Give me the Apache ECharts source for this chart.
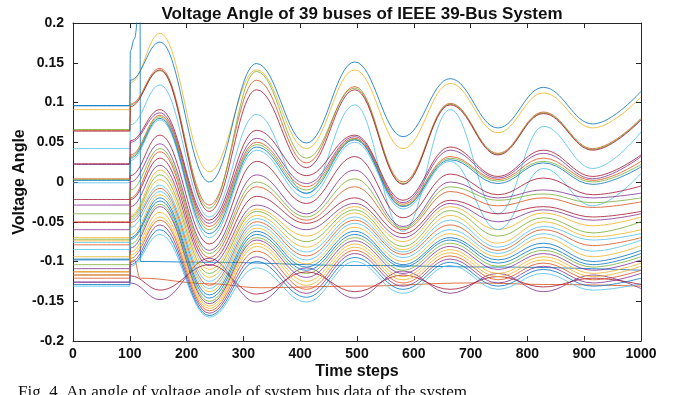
<!DOCTYPE html>
<html><head><meta charset="utf-8">
<script src="https://cdn.jsdelivr.net/npm/echarts@6/dist/echarts.min.js"></script>
<style>html,body{margin:0;padding:0;background:#fff}#c{width:689px;height:395px}</style>
</head><body><div id="c"></div>
<script>
// ---- data ----
const titleText = 'Voltage Angle of 39 buses of IEEE 39-Bus System';
const xLabel = 'Time steps';
const yLabel = 'Voltage Angle';
const captionText = 'Fig. 4. An angle of voltage angle of system bus data of the system';
const xTicks = [0, 100, 200, 300, 400, 500, 600, 700, 800, 900, 1000];
const yTicks = [-0.2, -0.15, -0.1, -0.05, 0, 0.05, 0.1, 0.15, 0.2];

// time steps at which each bus angle was read (pre-fault, jump, peaks and troughs)
const keyTimes   = [0, 100, 101, 153, 240, 323, 411, 496, 581, 664, 748, 828, 915, 1000];
const faultTimes = [0, 100, 101, 108, 116, 118, 119, 240, 500, 750, 1000];
const slowTimes  = [0, 100, 101, 108, 118, 240, 330, 500, 700, 850, 1000];

const bus01 = [0.096, 0.096, 0.165, 0.180, 0.215, 0.215, -0.100, -0.101, -0.105, -0.107, -0.111];
const bus02 = [0.065, 0.065, 0.098, 0.143, -0.029, 0.128, 0.024, 0.120, 0.000, 0.099, 0.036, 0.088, 0.042, 0.080];
const bus03 = [0.091, 0.091, 0.125, 0.187, 0.013, 0.141, 0.042, 0.141, 0.042, 0.124, 0.062, 0.112, 0.068, 0.107];
const bus04 = [0.022, 0.022, 0.050, 0.087, -0.052, 0.055, -0.002, 0.057, -0.026, 0.040, 0.005, 0.036, 0.004, 0.032];
const bus05 = [0.066, 0.066, 0.097, 0.140, -0.033, 0.139, 0.030, 0.118, -0.002, 0.098, 0.035, 0.087, 0.041, 0.079];
const bus06 = [0.042, 0.042, 0.072, 0.122, -0.044, 0.085, -0.015, 0.097, -0.062, 0.091, -0.040, 0.070, 0.017, 0.063];
const bus07 = [0.064, 0.064, 0.095, 0.141, -0.037, 0.116, 0.018, 0.116, -0.003, 0.097, 0.034, 0.086, 0.040, 0.078];
const bus08 = [0.096, 0.096, 0.128, 0.176, 0.000, 0.149, 0.049, 0.151, 0.057, 0.130, 0.068, 0.119, 0.073, 0.114];
const bus09 = [0.004, 0.004, 0.034, 0.084, -0.056, 0.050, -0.006, 0.055, -0.028, 0.032, 0.003, 0.030, 0.002, 0.026];
const bus10 = [-0.070, -0.070, -0.042, 0.015, -0.110, -0.034, -0.068, -0.031, -0.075, -0.031, -0.060, -0.039, -0.055, -0.044];
const bus11 = [-0.126, -0.126, -0.127, -0.148, -0.096, -0.151, -0.108, -0.146, -0.112, -0.140, -0.115, -0.138, -0.117, -0.134];
const bus12 = [0.003, 0.003, 0.032, 0.082, -0.060, 0.047, -0.010, 0.054, -0.030, 0.030, 0.001, 0.026, 0.000, 0.022];
const bus13 = [-0.001, -0.001, 0.027, 0.078, -0.070, 0.040, -0.020, 0.050, -0.034, 0.026, -0.060, 0.017, -0.030, 0.011];
const bus14 = [0.023, 0.023, 0.052, 0.091, -0.048, 0.065, 0.008, 0.059, -0.023, 0.044, 0.007, 0.040, 0.007, 0.034];
const bus15 = [0.002, 0.002, 0.030, 0.080, -0.065, 0.044, -0.014, 0.053, -0.031, 0.028, -0.002, 0.024, -0.003, 0.019];
const bus16 = [-0.050, -0.050, -0.020, 0.038, -0.095, -0.006, -0.048, -0.006, -0.060, -0.012, -0.030, -0.020, -0.032, -0.025];
const bus17 = [-0.074, -0.074, -0.046, 0.003, -0.120, -0.042, -0.082, -0.039, -0.085, -0.042, -0.077, -0.050, -0.069, -0.060];
const bus18 = [-0.029, -0.029, 0.000, 0.048, -0.086, 0.009, -0.040, 0.015, -0.056, 0.000, -0.020, -0.010, -0.020, -0.014];
const bus19 = [-0.072, -0.072, -0.044, 0.009, -0.115, -0.037, -0.075, -0.035, -0.081, -0.036, -0.068, -0.045, -0.064, -0.050];
const bus20 = [-0.076, -0.076, -0.048, -0.004, -0.125, -0.046, -0.088, -0.044, -0.088, -0.048, -0.082, -0.056, -0.073, -0.065];
const bus21 = [-0.022, -0.022, 0.008, 0.059, -0.078, 0.026, -0.027, 0.032, -0.045, 0.010, -0.016, 0.005, -0.016, -0.005];
const bus22 = [-0.097, -0.097, -0.070, -0.020, -0.142, -0.062, -0.107, -0.062, -0.104, -0.070, -0.098, -0.077, -0.100, -0.086];
const bus23 = [-0.113, -0.113, -0.100, -0.098, -0.121, -0.128, -0.133, -0.131, -0.127, -0.129, -0.131];
const bus24 = [-0.094, -0.094, -0.066, -0.016, -0.138, -0.058, -0.103, -0.057, -0.100, -0.065, -0.094, -0.070, -0.094, -0.080];
const bus25 = [-0.060, -0.060, -0.031, 0.021, -0.105, -0.029, -0.060, -0.027, -0.070, -0.027, -0.050, -0.035, -0.048, -0.040];
const bus26 = [-0.104, -0.104, -0.078, -0.028, -0.150, -0.070, -0.115, -0.070, -0.111, -0.077, -0.106, -0.086, -0.107, -0.094];
const bus27 = [-0.131, -0.131, -0.106, -0.066, -0.170, -0.108, -0.151, -0.100, -0.140, -0.105, -0.135, -0.115, -0.136, -0.128];
const bus28 = [-0.117, -0.117, -0.118, -0.136, -0.104, -0.141, -0.113, -0.138, -0.117, -0.135, -0.119, -0.132, -0.121, -0.129];
const bus29 = [-0.098, -0.098, -0.072, -0.024, -0.146, -0.066, -0.111, -0.066, -0.107, -0.073, -0.102, -0.082, -0.104, -0.090];
const bus30 = [-0.079, -0.079, -0.051, -0.008, -0.130, -0.050, -0.093, -0.048, -0.091, -0.054, -0.086, -0.060, -0.080, -0.070];
const bus31 = [-0.113, -0.113, -0.088, -0.038, -0.156, -0.077, -0.125, -0.078, -0.119, -0.085, -0.115, -0.094, -0.115, -0.102];
const bus32 = [-0.109, -0.109, -0.083, -0.031, -0.153, -0.073, -0.120, -0.074, -0.115, -0.081, -0.110, -0.090, -0.111, -0.098];
const bus33 = [-0.040, -0.040, -0.010, 0.042, -0.090, 0.000, -0.044, 0.004, -0.058, -0.006, -0.023, -0.015, -0.026, -0.020];
const bus34 = [-0.085, -0.085, -0.057, -0.012, -0.134, -0.054, -0.098, -0.052, -0.095, -0.060, -0.090, -0.065, -0.087, -0.073];
const bus35 = [-0.051, -0.051, -0.022, 0.030, -0.100, -0.018, -0.052, -0.020, -0.065, -0.023, -0.040, -0.031, -0.044, -0.037];
const bus36 = [-0.129, -0.129, -0.104, -0.060, -0.168, -0.100, -0.145, -0.095, -0.135, -0.101, -0.131, -0.110, -0.131, -0.121];
const bus37 = [-0.121, -0.121, -0.096, -0.048, -0.162, -0.087, -0.135, -0.086, -0.127, -0.093, -0.123, -0.102, -0.123, -0.111];
const bus38 = [-0.117, -0.117, -0.092, -0.044, -0.159, -0.081, -0.130, -0.082, -0.123, -0.089, -0.119, -0.098, -0.119, -0.106];
const bus39 = [-0.126, -0.126, -0.101, -0.054, -0.165, -0.094, -0.140, -0.090, -0.131, -0.097, -0.127, -0.106, -0.127, -0.115];

const buses = [bus01,bus02,bus03,bus04,bus05,bus06,bus07,bus08,bus09,bus10,bus11,bus12,bus13,
  bus14,bus15,bus16,bus17,bus18,bus19,bus20,bus21,bus22,bus23,bus24,bus25,bus26,bus27,bus28,bus29,
  bus30,bus31,bus32,bus33,bus34,bus35,bus36,bus37,bus38,bus39];

// ---- style ----
const lineColors = ['#0072BD','#D95319','#EDB120','#7E2F8E','#77AC30','#4DBEEE','#A2142F'];
const axisColor = '#262626';
const fontFam = 'Liberation Sans, Arial, sans-serif';

const series = buses.map((vals, i) => {
  const times = i === 0 ? faultTimes : (i === 22 ? slowTimes : keyTimes);
  return {
    type: 'line',
    name: 'Bus ' + (i + 1),
    data: times.map((t, k) => [t, vals[k]]),
    smooth: 0.4,
    smoothMonotone: 'x',
    symbol: 'none',
    silent: true,
    clip: true,
    xAxisIndex: 0, yAxisIndex: 0,
    lineStyle: { width: 1, color: lineColors[i % 7], opacity: 0.8 }
  };
});

const fmtY = v => String(Math.round(v * 100) / 100);
const fmtX = v => String(Math.round(v));
const baseAxis = {
  type: 'value',
  axisLine: { show: true, onZero: false, lineStyle: { color: axisColor, width: 1 } },
  axisTick: { show: true, inside: true, length: 5, lineStyle: { color: axisColor, width: 1 } },
  splitLine: { show: false }
};

const chart = echarts.init(document.getElementById('c'), null, { renderer: 'canvas' });
chart.setOption({
  animation: false,
  backgroundColor: '#ffffff',
  title: {
    text: titleText, left: 357, top: 1, textAlign: 'center',
    textStyle: { fontFamily: fontFam, fontWeight: 'bold', fontSize: 17, color: '#111' }
  },
  grid: { left: 73, right: 48, top: 23, bottom: 54, containLabel: false, outerBoundsMode: 'none' },
  xAxis: [
    Object.assign({}, baseAxis, {
      min: xTicks[0], max: xTicks[xTicks.length - 1], interval: 100, position: 'bottom',
      name: xLabel, nameLocation: 'middle', nameGap: 23, nameMoveOverlap: false,
      nameTextStyle: { fontFamily: fontFam, fontWeight: 'bold', fontSize: 16, color: '#111' },
      axisLabel: { show: true, margin: 6, fontFamily: fontFam, fontWeight: 'bold', fontSize: 14, color: '#111', formatter: fmtX }
    }),
    Object.assign({}, baseAxis, {
      min: xTicks[0], max: xTicks[xTicks.length - 1], interval: 100, position: 'top',
      axisLabel: { show: false }
    })
  ],
  yAxis: [
    Object.assign({}, baseAxis, {
      min: yTicks[0], max: yTicks[yTicks.length - 1], interval: 0.05, position: 'left',
      name: yLabel, nameLocation: 'middle', nameGap: 45, nameRotate: 90, nameMoveOverlap: false,
      nameTextStyle: { fontFamily: fontFam, fontWeight: 'bold', fontSize: 16, color: '#111' },
      axisLabel: { show: true, margin: 9, fontFamily: fontFam, fontWeight: 'bold', fontSize: 14, color: '#111', formatter: fmtY }
    }),
    Object.assign({}, baseAxis, {
      min: yTicks[0], max: yTicks[yTicks.length - 1], interval: 0.05, position: 'right',
      axisLabel: { show: false }
    })
  ],
  graphic: [{
    type: 'text', left: 18, top: 384, silent: true,
    style: { text: captionText, font: '17px "Liberation Serif", "Times New Roman", serif', fill: '#111' }
  }],
  series: series
});
</script></body></html>
